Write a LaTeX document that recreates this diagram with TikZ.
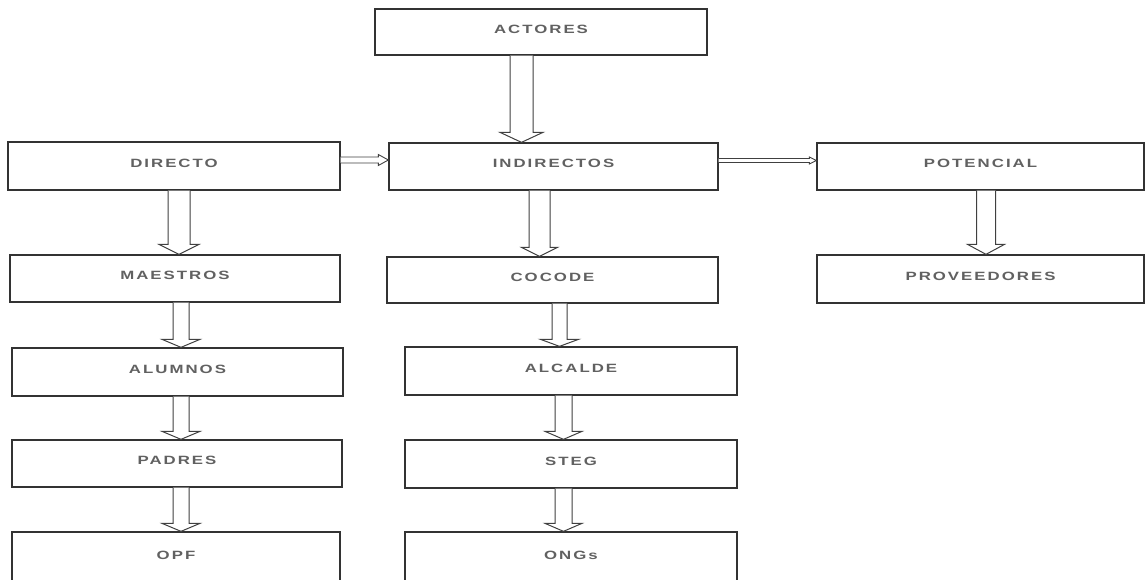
\documentclass[tikz,border=0pt]{standalone}
\usepackage{fontspec}
\newfontfamily\lblfont[LetterSpace=12]{Liberation Sans}
\usetikzlibrary{calc}
\tikzset{
  box/.style={draw=black!80, line width=1.3pt, fill=white, rectangle, inner sep=0pt,
    font=\lblfont\bfseries\fontsize{12}{12}\selectfont, text=black!62},
  varrow/.style n args={3}{draw=black!75, line width=1pt, fill=white,
    to path={let \p1=(\tikztostart), \p2=(\tikztotarget) in
      ({\x1-#1},\y1) -- ({\x1-#1},{\y2+#3}) -- ({\x1-#2},{\y2+#3}) -- (\x1,\y2)
      -- ({\x1+#2},{\y2+#3}) -- ({\x1+#1},{\y2+#3}) -- ({\x1+#1},\y1) \tikztonodes}},
  harrow/.style n args={3}{draw=black!75, line width=0.9pt, fill=white,
    to path={let \p1=(\tikztostart), \p2=(\tikztotarget) in
      (\x1,{\y1+#1}) -- ({\x2-#3},{\y1+#1}) -- ({\x2-#3},{\y1+#2}) -- (\x2,\y1)
      -- ({\x2-#3},{\y1-#2}) -- ({\x2-#3},{\y1-#1}) -- (\x1,{\y1-#1}) \tikztonodes}}
}
\newcommand{\bx}[6]{%
  \node[box, minimum width={(#4-#2)*1pt}, minimum height={(#5-#3)*1pt}] (#1) at ({(#2+#4)/2},{(#3+#5)/2})
    {\raisebox{6pt}{\scalebox{1.4}[1]{#6}}};}
\begin{document}
\begin{tikzpicture}[x=1pt,y=-1pt]
\useasboundingbox (0,0) rectangle (1148,580);
\bx{actores}{375}{9}{707}{55}{ACTORES}
\bx{directo}{8}{142}{340}{190}{DIRECTO}
\bx{indirectos}{389}{143}{718}{190}{INDIRECTOS}
\bx{potencial}{817}{143}{1144}{190}{POTENCIAL}
\bx{maestros}{10}{255}{340}{302}{MAESTROS}
\bx{cocode}{387}{257}{718}{303}{COCODE}
\bx{proveedores}{817}{255}{1144}{303}{PROVEEDORES}
\bx{alumnos}{12}{348}{343}{396}{ALUMNOS}
\bx{alcalde}{405}{347}{737}{395}{ALCALDE}
\bx{padres}{12}{440}{342}{487}{PADRES}
\bx{steg}{405}{440}{737}{488}{STEG}
\bx{opf}{12}{532}{340}{584}{OPF}
\bx{ongs}{405}{532}{737}{584}{ONGs}
% vertical block arrows
\draw[varrow={11.5pt}{21.5pt}{10pt}] ([xshift=-19.5pt]actores.south) to (indirectos.north);
\draw[varrow={11pt}{20pt}{10pt}] ([xshift=5pt]directo.south) to (maestros.north);
\draw[varrow={10.5pt}{18pt}{9pt}] ([xshift=-14pt]indirectos.south) to (cocode.north);
\draw[varrow={9.5pt}{18.5pt}{10pt}] ([xshift=5.5pt]potencial.south) to (proveedores.north);
\draw[varrow={8pt}{19pt}{8pt}] ([xshift=6pt]maestros.south) to (alumnos.north);
\draw[varrow={8pt}{19pt}{8pt}] ([xshift=3.5pt]alumnos.south) to (padres.north);
\draw[varrow={8pt}{19pt}{8pt}] ([xshift=4pt]padres.south) to (opf.north);
\draw[varrow={7.5pt}{19pt}{7pt}] ([xshift=7pt]cocode.south) to (alcalde.north);
\draw[varrow={8.5pt}{18.5pt}{8pt}] ([xshift=-7.5pt]alcalde.south) to (steg.north);
\draw[varrow={8.5pt}{18.5pt}{8pt}] ([xshift=-7.5pt]steg.south) to (ongs.north);
% horizontal arrows
\draw[harrow={3pt}{5.5pt}{10pt}] ([yshift=6pt]directo.east) to (indirectos.west);
\draw[harrow={2pt}{3.5pt}{7pt}] ([yshift=6pt]indirectos.east) to (potencial.west);
\end{tikzpicture}
\end{document}
